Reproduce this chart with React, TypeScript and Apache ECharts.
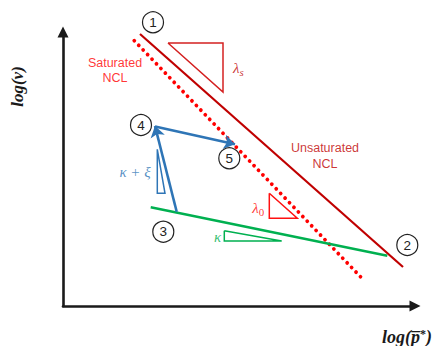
import React, { useEffect, useRef } from "react";
import * as echarts from "echarts";

// Schematic data (units = offsets from axis origin)
const unsaturatedNCL = [[77, 272], [340, 39]];
const saturatedNCL = [[71.3, 265.3], [298, 28.7]];
const swellingLine = [[87.7, 98.7], [324.3, 50.3]];
const path34 = [[113.7, 94.3], [92, 180]];
const path45 = [[92, 179.5], [172, 161.7]];
const triLambdaS = [[105, 263], [160, 263], [160, 214], [105, 263]];
const triLambda0 = [[206.3, 112.7], [206.3, 87.7], [234.3, 87.7], [206.3, 112.7]];
const triKappa = [[161.3, 75.3], [161.3, 65], [218.7, 65], [161.3, 75.3]];
const triKappaXi = [[94.3, 156.7], [94.3, 112.7], [102, 112.7], [94.3, 156.7]];
const stateNames = ["1", "2", "3", "4", "5"];
const statePoints = [[90, 283.7], [344.3, 61], [100.3, 74.3], [78, 181], [166.3, 147.7]];
const xAxisTitle = "log(p̅";
const yAxisTitle = "log(v)";

const serif = '"Liberation Serif", "DejaVu Serif", serif';
const sans = '"Liberation Sans", Arial, sans-serif';

export default function App() {
  const ref = useRef<HTMLDivElement>(null);
  useEffect(() => {
    if (!ref.current) return;
    const chart = echarts.init(ref.current, null, { renderer: "svg" });
    const textPoint = (pos: number[], formatter: string, style: any) => ({
      value: pos,
      label: { show: true, position: "inside", formatter, ...style },
    });
    chart.setOption({
      animation: false,
      grid: { left: 63, right: 28, top: 32, bottom: 40 },
      xAxis: {
        type: "value",
        min: 0,
        max: 352,
        axisLine: {
          show: true,
          lineStyle: { color: "#1a1a1a", width: 2.6 },
          symbol: ["none", "triangle"],
          symbolSize: [11, 11],
        },
        axisTick: { show: false },
        axisLabel: { show: false },
        splitLine: { show: false },
      },
      yAxis: {
        type: "value",
        min: 0,
        max: 274,
        axisLine: {
          show: true,
          lineStyle: { color: "#1a1a1a", width: 2.6 },
          symbol: ["none", "triangle"],
          symbolSize: [11, 11],
        },
        axisTick: { show: false },
        axisLabel: { show: false },
        splitLine: { show: false },
      },
      graphic: [
        {
          type: "text",
          x: 17,
          y: 86.5,
          rotation: Math.PI / 2,
          style: {
            text: yAxisTitle,
            font: 'italic bold 17px ' + serif,
            fill: "#1a1a1a",
            align: "center",
            verticalAlign: "middle",
          },
        },
        {
          type: "text",
          x: 407,
          y: 337,
          style: {
            text: "{a|" + xAxisTitle + "}{b|*}{a|)}",
            align: "center",
            verticalAlign: "middle",
            rich: {
              a: { font: 'italic bold 18px ' + serif, fill: "#1a1a1a" },
              b: { font: 'bold 12px ' + serif, fill: "#1a1a1a", verticalAlign: "top" },
            },
          },
        },
      ],
      series: [
        {
          type: "lines",
          coordinateSystem: "cartesian2d",
          silent: true,
          z: 2,
          data: [{ coords: saturatedNCL }],
          lineStyle: { color: "#ff0000", width: 3.8, type: [0.01, 6.4], cap: "round", opacity: 1 },
        },
        {
          type: "lines",
          coordinateSystem: "cartesian2d",
          silent: true,
          z: 3,
          data: [{ coords: unsaturatedNCL }],
          lineStyle: { color: "#c00000", width: 2.2, opacity: 1 },
        },
        {
          type: "lines",
          coordinateSystem: "cartesian2d",
          silent: true,
          z: 3,
          data: [{ coords: swellingLine }],
          lineStyle: { color: "#00b050", width: 2.5, opacity: 1 },
        },
        {
          type: "lines",
          coordinateSystem: "cartesian2d",
          silent: true,
          z: 4,
          symbol: ["none", "arrow"],
          symbolSize: [9, 11],
          data: [{ coords: path34 }, { coords: path45 }],
          lineStyle: { color: "#2e75b6", width: 2.6, opacity: 1 },
        },
        {
          type: "lines",
          coordinateSystem: "cartesian2d",
          polyline: true,
          silent: true,
          z: 4,
          data: [
            { coords: triLambdaS, lineStyle: { color: "#d42020" } },
            { coords: triLambda0, lineStyle: { color: "#ff1010" } },
            { coords: triKappa, lineStyle: { color: "#00b050" } },
            { coords: triKappaXi, lineStyle: { color: "#2e75b6" } },
          ],
          lineStyle: { width: 1.5, opacity: 1 },
        },
        {
          type: "scatter",
          silent: true,
          z: 5,
          symbol: "circle",
          symbolSize: 21,
          clip: false,
          itemStyle: { color: "#ffffff", borderColor: "#222", borderWidth: 1.2, opacity: 1 },
          label: {
            show: true,
            position: "inside",
            formatter: (p: any) => stateNames[p.dataIndex],
            fontFamily: sans,
            fontSize: 13.5,
            color: "#222",
          },
          data: statePoints,
        },
        {
          type: "scatter",
          silent: true,
          z: 6,
          symbolSize: 0,
          clip: false,
          data: [
            textPoint([52, 235.5], "Saturated\nNCL", { fontFamily: sans, fontSize: 12.5, lineHeight: 15, color: "#ff0000", align: "center" }),
            textPoint([262, 150], "Unsaturated\nNCL", { fontFamily: sans, fontSize: 12.5, lineHeight: 16, color: "#c00000", align: "center" }),
            textPoint([175.3, 237.7], "{l|λ}{s|s}", {
              rich: {
                l: { fontFamily: serif, fontStyle: "italic", fontSize: 15, color: "#c00000", lineHeight: 18 },
                s: { fontFamily: serif, fontStyle: "italic", fontSize: 11, color: "#c00000", lineHeight: 18, verticalAlign: "bottom", padding: [6, 0, 0, 0] },
              },
            }),
            textPoint([195.3, 97.7], "{l|λ}{s|0}", {
              rich: {
                l: { fontFamily: serif, fontStyle: "italic", fontSize: 15, color: "#ff0000", lineHeight: 18 },
                s: { fontFamily: serif, fontSize: 11, color: "#ff0000", lineHeight: 18, verticalAlign: "bottom", padding: [6, 0, 0, 0] },
              },
            }),
            textPoint([72, 134.3], "κ + ξ", { fontFamily: serif, fontStyle: "italic", fontSize: 15, color: "#2e75b6" }),
            textPoint([154.7, 68.7], "κ", { fontFamily: serif, fontStyle: "italic", fontSize: 15, color: "#00b050" }),
          ],
        },
      ],
    });
    return () => chart.dispose();
  }, []);
  return (
    <div
      ref={ref}
      style={{ position: "absolute", left: 0, top: 0, width: 443, height: 346 }}
    />
  );
}
